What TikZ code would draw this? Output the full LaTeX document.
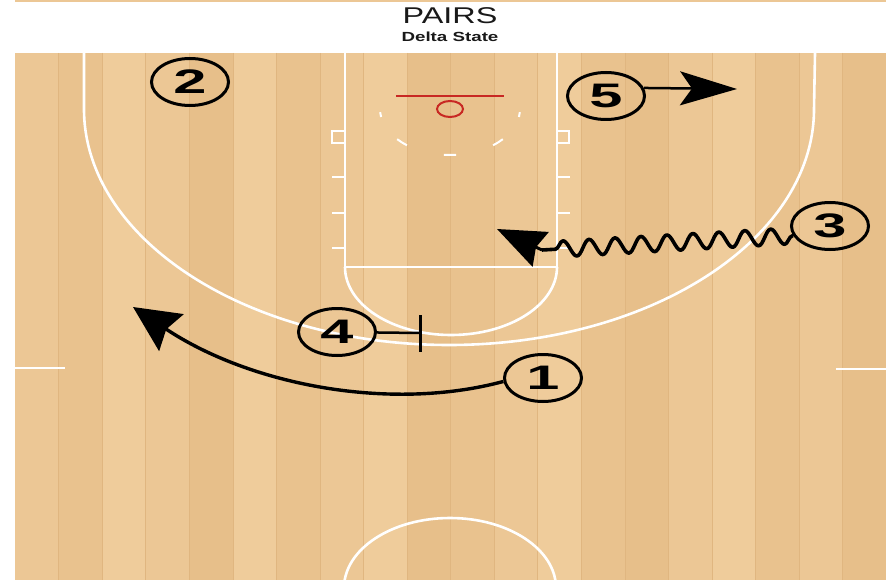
\documentclass[tikz,border=0pt]{standalone}
\usepackage{fontspec}
\setmainfont{Liberation Sans}
\usepackage{graphicx}
\usetikzlibrary{shapes.geometric,arrows.meta,decorations.pathmorphing}
\definecolor{wA}{RGB}{236,199,149}
\definecolor{wB}{RGB}{233,194,142}
\definecolor{wC}{RGB}{239,204,155}
\definecolor{wD}{RGB}{231,191,138}
\definecolor{plankline}{RGB}{224,182,128}
\definecolor{rimc}{RGB}{200,40,35}
\definecolor{titlec}{RGB}{25,25,25}
\begin{document}
\begin{tikzpicture}[x=1pt,y=-1pt,
  court/.style={draw=white, line width=2.6pt},
  hashmark/.style={draw=white, line width=2pt},
  rimline/.style={draw=rimc, line width=2pt},
  player/.style={ellipse, draw=black, line width=3pt, minimum width=77pt,
    minimum height=47pt, inner sep=0pt,
    font=\bfseries\fontsize{34}{34}\selectfont},
  move/.style={draw=black, line width=3pt},
]
\useasboundingbox (0,0) rectangle (890,580);
\fill[white] (0,0) rectangle (890,580);
% wood floor
\fill[wA] (15,0) rectangle (886,2.5);
\foreach \i/\c in {0/wA,1/wB,2/wC,3/wA,4/wD,5/wC,6/wB,7/wA,8/wC,9/wD,10/wB,11/wA,12/wC,13/wB,14/wD,15/wA,16/wC,17/wB,18/wA,19/wD}
  \fill[\c] ({15+\i*43.55},53) rectangle ({15+(\i+1)*43.55},580);
\foreach \i in {1,...,19}
  \draw[plankline, line width=0.4pt] ({15+\i*43.55},53) -- ({15+\i*43.55},580);
% court lines
\begin{scope}
\clip (15,53) rectangle (886,580);
\draw[court] (84,53) -- (84,109) arc[start angle=180, end angle=0, x radius=365, y radius=236] -- (815,53);
\draw[court] (345,53) -- (345,267) -- (557,267) -- (557,53);
\draw[court] (557,267) arc[start angle=0, end angle=180, x radius=106, y radius=68];
\draw[court] (450,588) ellipse [x radius=106, y radius=70];
\draw[court] (15,368) -- (65,368);
\draw[court] (836,369) -- (886,369);
\end{scope}
% lane marks
\draw[hashmark] (345,131) -- (332,131) -- (332,143) -- (345,143);
\draw[hashmark] (557,131) -- (569,131) -- (569,143) -- (557,143);
\foreach \y in {177,213,248} {
  \draw[hashmark] (332,\y) -- (345,\y);
  \draw[hashmark] (557,\y) -- (570,\y);
}
% restricted area dashes
\foreach \a/\b in {4/10,41/52,85/95,128/139,170/176}
  \draw[hashmark] (450,109) ++(\a:70 and 46) arc[start angle=\a, end angle=\b, x radius=70, y radius=46];
% backboard and rim
\draw[rimline] (396,96) -- (504,96);
\draw[rimline] (450,109) ellipse [x radius=13, y radius=8];
% title
\node[anchor=base, text=titlec, inner sep=0pt] (title) at (450,24)
  {\scalebox{1.42}[1]{\fontsize{22.8}{22}\selectfont PAIRS}};
\node[anchor=base, text=titlec, inner sep=0pt] (sub) at (450,42)
  {\scalebox{1.42}[1]{\bfseries\fontsize{13.2}{13}\selectfont Delta State}};
% players
\node[player] (p2) at (190,82) {\scalebox{1.75}[1]{2}};
\node[player] (p5) at (606,96) {\scalebox{1.75}[1]{5}};
\node[player] (p3) at (830,226) {\scalebox{1.75}[1]{3}};
\node[player] (p1) at (543,378) {\scalebox{1.75}[1]{1}};
\node[player] (p4) at (337,332) {\scalebox{1.75}[1]{4}};
% coordinates
\coordinate (t5) at (737,89);
\coordinate (a3) at (542,250);
\coordinate (t3) at (497,229);
\coordinate (t1) at (133,307);
\coordinate (s4) at (420,333);
\coordinate (s4a) at (420,315);
\coordinate (s4b) at (420,352);
% movements
\draw[line width=2.5pt, -{Stealth[length=57pt,width=34pt,inset=12pt]}] (p5.12) -- (t5);
\draw[move, line width=3.6pt, line join=round, decorate,
  decoration={snake, amplitude=8pt, segment length=26pt, pre length=1pt, post length=1pt}] (p3.195) -- (a3);
\draw[move, -{Stealth[length=48pt,width=38pt,inset=5pt]}] (a3) -- (t3);
\draw[move, line width=3.4pt, -{Stealth[length=46pt,width=44pt,inset=6pt]}] (p1.185) .. controls (390,412) and (250,385) .. (t1);
\draw[line width=2.5pt] (p4) -- (s4);
\draw[line width=3pt] (s4a) -- (s4b);
\end{tikzpicture}
\end{document}
